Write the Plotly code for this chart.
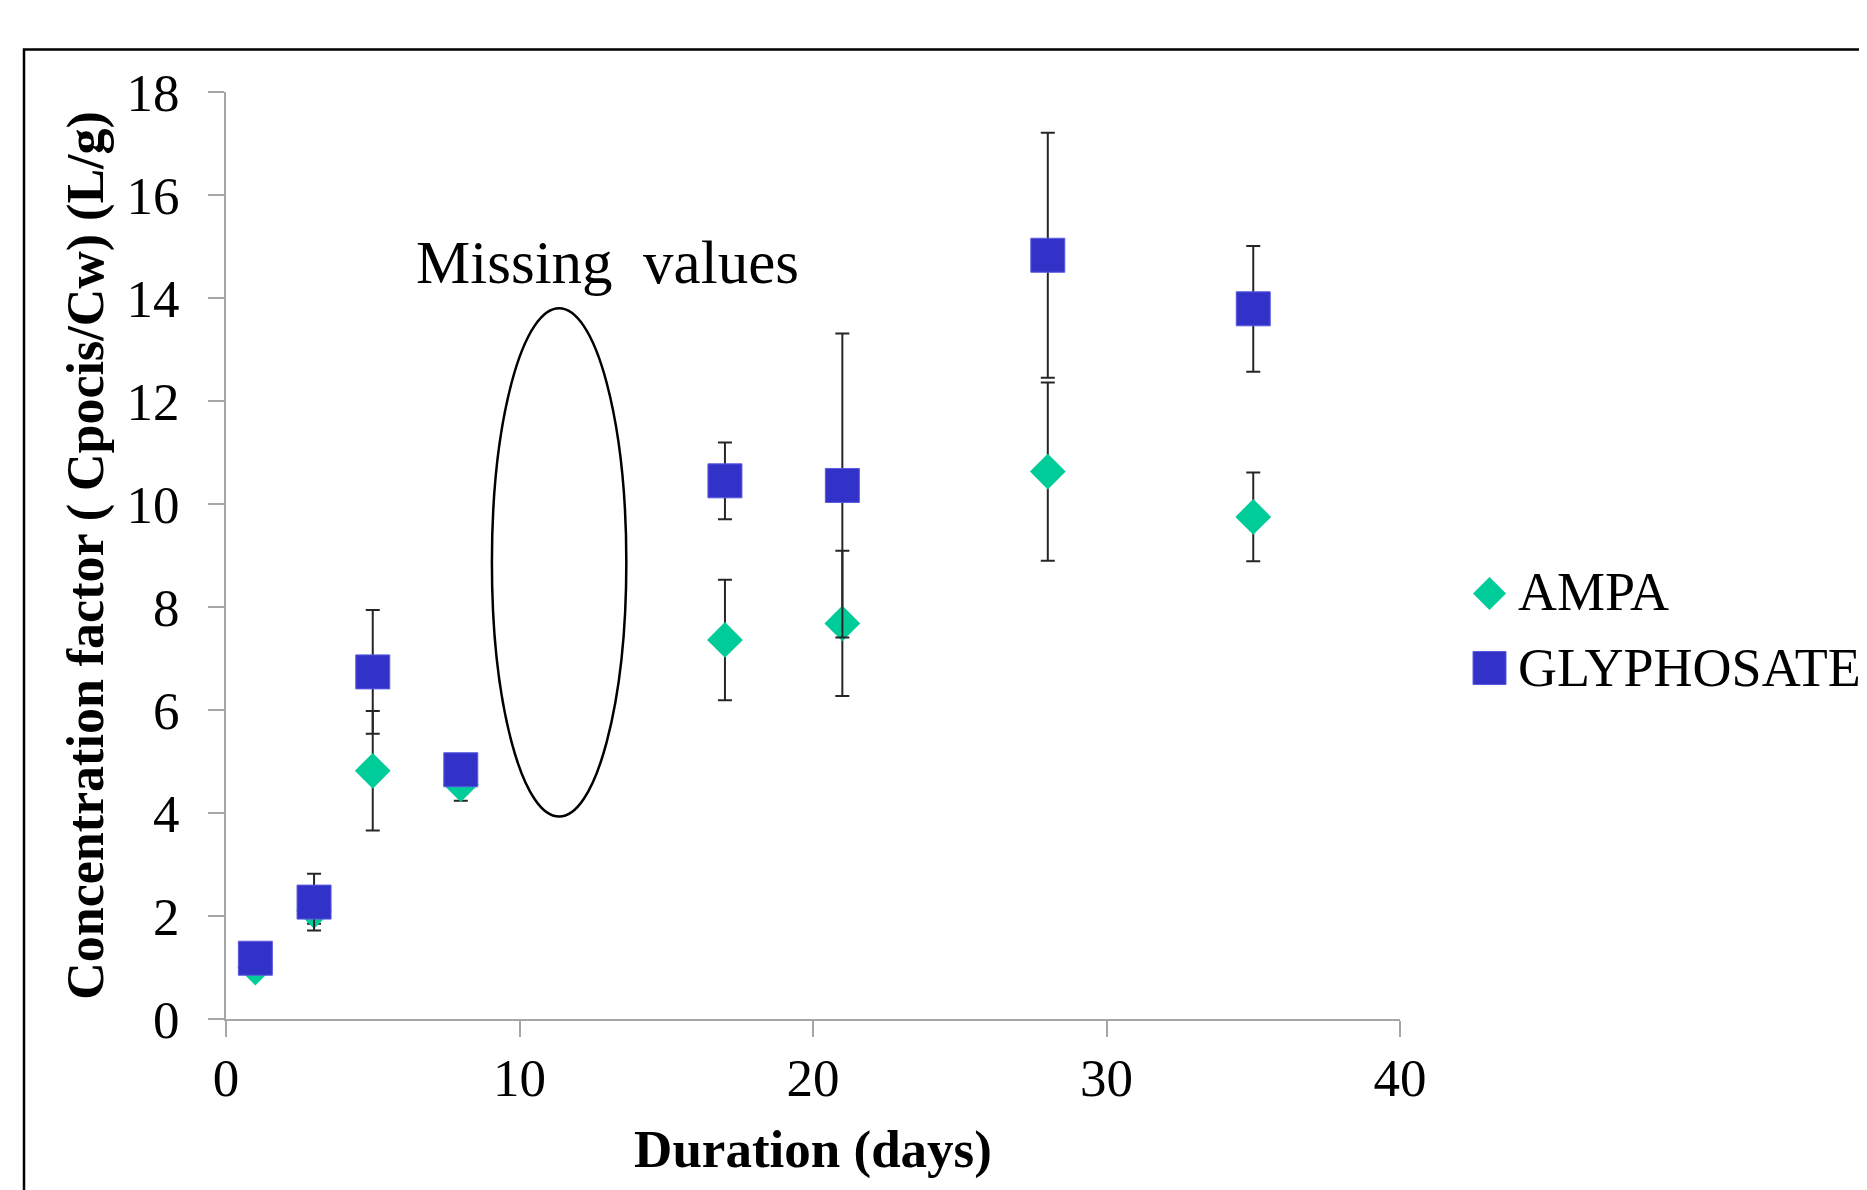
import plotly.graph_objects as go

# ---------------- data ----------------
days = [1, 3, 5, 8, 17, 21, 28, 35]
ampa = [1.0, 2.1, 4.82, 4.56, 7.36, 7.68, 10.63, 9.75]
ampa_err = [0.15, 0.25, 1.16, 0.32, 1.17, 1.41, 1.73, 0.86]
glyphosate = [1.18, 2.27, 6.74, 4.84, 10.45, 10.36, 14.83, 13.79]
glyphosate_err = [0.12, 0.55, 1.2, 0.25, 0.745, 2.95, 2.38, 1.22]

x_ticks = [0, 10, 20, 30, 40]
y_ticks = [0, 2, 4, 6, 8, 10, 12, 14, 16, 18]

# "missing values" ellipse (data units)
missing_x = [9.06, 13.64]
missing_y = [3.93, 13.80]
missing_label_pos = (6.41, 14.69)

# ---------------- layout geometry ----------------
OFF = 8  # page body margin
W, H = 1867, 1190
L, R, T, B = 226 - OFF, 467 + OFF, 92 - OFF, 171 + OFF
PW = W - L - R
PH = H - T - B


def px_x(px):
    # screenshot pixel -> paper x
    return (px - OFF - L) / PW


def px_y(py):
    # screenshot pixel -> paper y
    return (H - B - (py - OFF)) / PH


AMPA_COLOR = "#00CC99"
GLY_COLOR = "#3232C8"
FONT = "Liberation Serif"
AXIS_GRAY = "#A6A6A6"

fig = go.Figure()

fig.add_trace(go.Scatter(
    x=days, y=ampa, mode="markers", name="AMPA",
    marker=dict(symbol="diamond", size=27.5, color=AMPA_COLOR,
                line=dict(width=0)),
    error_y=dict(type="data", array=ampa_err, visible=True,
                 color="#262626", thickness=2, width=7),
    showlegend=False,
))
fig.add_trace(go.Scatter(
    x=days, y=glyphosate, mode="markers", name="GLYPHOSATE",
    marker=dict(symbol="square", size=34, color=GLY_COLOR,
                line=dict(width=1, color="#5A5AE0")),
    error_y=dict(type="data", array=glyphosate_err, visible=True,
                 color="#262626", thickness=2, width=7),
    showlegend=False,
))

shapes = []
# ellipse for missing values
shapes.append(dict(type="circle", xref="x", yref="y",
                   x0=missing_x[0], x1=missing_x[1],
                   y0=missing_y[0], y1=missing_y[1],
                   line=dict(color="black", width=2.5)))
# outer frame (extends past the page edge)
shapes.append(dict(type="rect", xref="paper", yref="paper",
                   x0=px_x(24), x1=px_x(1950), y0=px_y(1260), y1=px_y(49.5),
                   line=dict(color="black", width=2.5)))
# custom legend swatches
cx, half = 1489.5, 16.5
cy_a, cy_g = 593.5, 668
shapes.append(dict(type="path", xref="paper", yref="paper",
                   path=(f"M {px_x(cx - half)} {px_y(cy_a)} L {px_x(cx)} {px_y(cy_a - half)} "
                         f"L {px_x(cx + half)} {px_y(cy_a)} L {px_x(cx)} {px_y(cy_a + half)} Z"),
                   fillcolor=AMPA_COLOR, line=dict(width=0)))
shapes.append(dict(type="rect", xref="paper", yref="paper",
                   x0=px_x(cx - half), x1=px_x(cx + half),
                   y0=px_y(cy_g + half), y1=px_y(cy_g - half),
                   fillcolor=GLY_COLOR, line=dict(width=1, color="#5A5AE0")))

annotations = [
    dict(x=missing_label_pos[0], y=missing_label_pos[1], xref="x", yref="y",
         text="Missing\u00a0 values", showarrow=False, xanchor="left", yanchor="middle",
         font=dict(family=FONT, size=61, color="black")),
    dict(x=px_x(1516), y=px_y(592), xref="paper", yref="paper", text="AMPA",
         showarrow=False, xanchor="left", yanchor="middle",
         font=dict(family=FONT, size=54, color="black")),
    dict(x=px_x(1516), y=px_y(667.5), xref="paper", yref="paper", text="GLYPHOSATE",
         showarrow=False, xanchor="left", yanchor="middle",
         font=dict(family=FONT, size=54, color="black")),
]

axis_common = dict(
    showline=True, linecolor=AXIS_GRAY, linewidth=2,
    ticks="outside", ticklen=16, tickcolor=AXIS_GRAY, tickwidth=1.5,
    showgrid=False, zeroline=False,
    tickfont=dict(family=FONT, size=53, color="black"),
)

fig.update_layout(
    width=W, height=H,
    margin=dict(l=L, r=R, t=T, b=B, pad=0),
    paper_bgcolor="white", plot_bgcolor="white",
    xaxis=dict(range=[0, 40], tickvals=x_ticks, ticktext=[str(v) for v in x_ticks],
               ticklabelstandoff=-5,
               title=dict(text="<b>Duration (days)</b>", standoff=24,
                          font=dict(family=FONT, size=53, color="black")),
               **axis_common),
    yaxis=dict(range=[0, 18], tickvals=y_ticks, ticktext=[str(v) for v in y_ticks],
               ticklabelstandoff=18,
               title=dict(text="<b>Concentration factor ( Cpocis/Cw) (L/g)</b>", standoff=6,
                          font=dict(family=FONT, size=52, color="black")),
               **axis_common),
    shapes=shapes,
    annotations=annotations,
    showlegend=False,
)

fig.write_html("out.html")
